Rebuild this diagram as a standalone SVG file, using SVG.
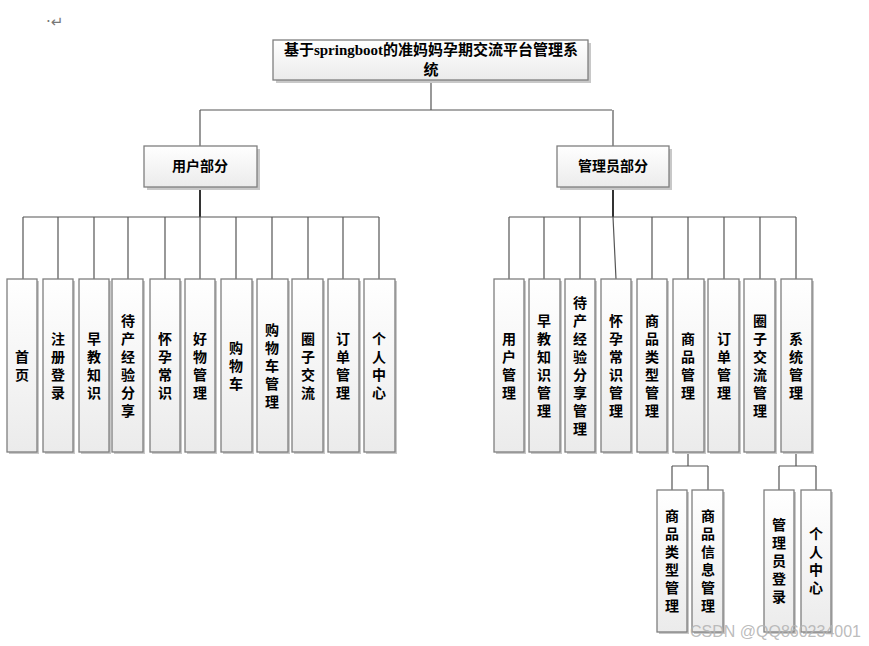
<svg xmlns="http://www.w3.org/2000/svg" width="869" height="646" viewBox="0 0 869 646">
<style>
.box{fill:url(#g);stroke:#7f7f7f;stroke-width:1.3}
.sh{fill:#c8c8c8}
.t{font-family:"Liberation Serif","Noto Sans CJK SC",serif;font-weight:bold;font-size:14px;fill:#000;text-anchor:middle;dominant-baseline:central}
.ln{stroke:#555;stroke-width:1.2;fill:none}
.th{stroke:#333;stroke-width:2;fill:none}
</style>
<defs>
<linearGradient id="g" x1="0" y1="0" x2="0" y2="1">
<stop offset="0" stop-color="#ffffff"/>
<stop offset="1" stop-color="#ebebeb"/>
</linearGradient>
</defs>
<rect width="869" height="646" fill="#fff"/>
<text x="46" y="27" font-family="DejaVu Sans,sans-serif" font-size="15" fill="#777">·↵</text>

<g id="connectors">
<path class="ln" d="M431,80V110M200,110H612M200,110V146M613,110V146"/>
<path class="th" d="M200,187V217M613,187V217"/>
<path class="ln" d="M23,217H379M23,217V279M58,217V279M94,217V279M128,217V279M165,217V279M200,217V279M236,217V279M272,217V279M308,217V279M343,217V279M379,217V279"/>
<path class="ln" d="M509,217H796M509,217V279M544,217V279M580,217V279M613,217L616,279M652,217V279M688,217V279M724,217V279M760,217V279M796,217V279"/>
<path class="ln" d="M688,452V466M672,466H708M672,466V490M708,466V490"/>
<path class="ln" d="M796,452V466M779,466H816M779,466V490M816,466V490"/>
</g>

<g id="root">
<rect class="sh" x="276" y="43" width="315" height="40"/>
<rect class="box" x="273" y="40" width="315" height="40"/>
<text class="t" x="431" y="50" style="font-size:15px">基于springboot的准妈妈孕期交流平台管理系</text>
<text class="t" x="431" y="70" style="font-size:15px">统</text>
</g>

<g id="user">
<rect class="sh" x="147" y="149" width="113" height="41"/>
<rect class="box" x="144" y="146" width="113" height="41"/>
<text class="t" x="200" y="166.5">用户部分</text>
</g>
<g id="admin">
<rect class="sh" x="560" y="149" width="112" height="41"/>
<rect class="box" x="557" y="146" width="112" height="41"/>
<text class="t" x="613" y="166.5">管理员部分</text>
</g>

<g id="u1"><rect class="sh" x="9" y="281" width="30" height="173"/><rect class="box" x="7" y="279" width="30" height="173"/>
<text class="t"><tspan x="22" y="356.5">首</tspan><tspan x="22" y="374.5">页</tspan></text></g>
<g id="u2"><rect class="sh" x="45" y="281" width="30" height="173"/><rect class="box" x="43" y="279" width="30" height="173"/>
<text class="t"><tspan x="58" y="338.5">注</tspan><tspan x="58" y="356.5">册</tspan><tspan x="58" y="374.5">登</tspan><tspan x="58" y="392.5">录</tspan></text></g>
<g id="u3"><rect class="sh" x="81" y="281" width="30" height="173"/><rect class="box" x="79" y="279" width="30" height="173"/>
<text class="t"><tspan x="94" y="338.5">早</tspan><tspan x="94" y="356.5">教</tspan><tspan x="94" y="374.5">知</tspan><tspan x="94" y="392.5">识</tspan></text></g>
<g id="u4"><rect class="sh" x="114" y="281" width="31" height="173"/><rect class="box" x="112" y="279" width="31" height="173"/>
<text class="t"><tspan x="128" y="320.5">待</tspan><tspan x="128" y="338.5">产</tspan><tspan x="128" y="356.5">经</tspan><tspan x="128" y="374.5">验</tspan><tspan x="128" y="392.5">分</tspan><tspan x="128" y="410.5">享</tspan></text></g>
<g id="u5"><rect class="sh" x="152" y="281" width="30" height="173"/><rect class="box" x="150" y="279" width="30" height="173"/>
<text class="t"><tspan x="165" y="338.5">怀</tspan><tspan x="165" y="356.5">孕</tspan><tspan x="165" y="374.5">常</tspan><tspan x="165" y="392.5">识</tspan></text></g>
<g id="u6"><rect class="sh" x="187" y="281" width="30" height="173"/><rect class="box" x="185" y="279" width="30" height="173"/>
<text class="t"><tspan x="200" y="338.5">好</tspan><tspan x="200" y="356.5">物</tspan><tspan x="200" y="374.5">管</tspan><tspan x="200" y="392.5">理</tspan></text></g>
<g id="u7"><rect class="sh" x="223" y="281" width="31" height="173"/><rect class="box" x="221" y="279" width="31" height="173"/>
<text class="t"><tspan x="236" y="347.5">购</tspan><tspan x="236" y="365.5">物</tspan><tspan x="236" y="383.5">车</tspan></text></g>
<g id="u8"><rect class="sh" x="259" y="281" width="31" height="173"/><rect class="box" x="257" y="279" width="31" height="173"/>
<text class="t"><tspan x="272" y="329.5">购</tspan><tspan x="272" y="347.5">物</tspan><tspan x="272" y="365.5">车</tspan><tspan x="272" y="383.5">管</tspan><tspan x="272" y="401.5">理</tspan></text></g>
<g id="u9"><rect class="sh" x="294" y="281" width="31" height="173"/><rect class="box" x="292" y="279" width="31" height="173"/>
<text class="t"><tspan x="308" y="338.5">圈</tspan><tspan x="308" y="356.5">子</tspan><tspan x="308" y="374.5">交</tspan><tspan x="308" y="392.5">流</tspan></text></g>
<g id="u10"><rect class="sh" x="330" y="281" width="31" height="173"/><rect class="box" x="328" y="279" width="31" height="173"/>
<text class="t"><tspan x="343" y="338.5">订</tspan><tspan x="343" y="356.5">单</tspan><tspan x="343" y="374.5">管</tspan><tspan x="343" y="392.5">理</tspan></text></g>
<g id="u11"><rect class="sh" x="366" y="281" width="31" height="173"/><rect class="box" x="364" y="279" width="31" height="173"/>
<text class="t"><tspan x="379" y="338.5">个</tspan><tspan x="379" y="356.5">人</tspan><tspan x="379" y="374.5">中</tspan><tspan x="379" y="392.5">心</tspan></text></g>

<g id="a1"><rect class="sh" x="496" y="281" width="30" height="173"/><rect class="box" x="494" y="279" width="30" height="173"/>
<text class="t"><tspan x="509" y="338.5">用</tspan><tspan x="509" y="356.5">户</tspan><tspan x="509" y="374.5">管</tspan><tspan x="509" y="392.5">理</tspan></text></g>
<g id="a2"><rect class="sh" x="531" y="281" width="31" height="173"/><rect class="box" x="529" y="279" width="31" height="173"/>
<text class="t"><tspan x="544" y="320.5">早</tspan><tspan x="544" y="338.5">教</tspan><tspan x="544" y="356.5">知</tspan><tspan x="544" y="374.5">识</tspan><tspan x="544" y="392.5">管</tspan><tspan x="544" y="410.5">理</tspan></text></g>
<g id="a3"><rect class="sh" x="567" y="281" width="30" height="173"/><rect class="box" x="565" y="279" width="30" height="173"/>
<text class="t"><tspan x="580" y="302.5">待</tspan><tspan x="580" y="320.5">产</tspan><tspan x="580" y="338.5">经</tspan><tspan x="580" y="356.5">验</tspan><tspan x="580" y="374.5">分</tspan><tspan x="580" y="392.5">享</tspan><tspan x="580" y="410.5">管</tspan><tspan x="580" y="428.5">理</tspan></text></g>
<g id="a4"><rect class="sh" x="603" y="281" width="30" height="173"/><rect class="box" x="601" y="279" width="30" height="173"/>
<text class="t"><tspan x="616" y="320.5">怀</tspan><tspan x="616" y="338.5">孕</tspan><tspan x="616" y="356.5">常</tspan><tspan x="616" y="374.5">识</tspan><tspan x="616" y="392.5">管</tspan><tspan x="616" y="410.5">理</tspan></text></g>
<g id="a5"><rect class="sh" x="639" y="281" width="30" height="173"/><rect class="box" x="637" y="279" width="30" height="173"/>
<text class="t"><tspan x="652" y="320.5">商</tspan><tspan x="652" y="338.5">品</tspan><tspan x="652" y="356.5">类</tspan><tspan x="652" y="374.5">型</tspan><tspan x="652" y="392.5">管</tspan><tspan x="652" y="410.5">理</tspan></text></g>
<g id="a6"><rect class="sh" x="675" y="281" width="31" height="173"/><rect class="box" x="673" y="279" width="31" height="173"/>
<text class="t"><tspan x="688" y="338.5">商</tspan><tspan x="688" y="356.5">品</tspan><tspan x="688" y="374.5">管</tspan><tspan x="688" y="392.5">理</tspan></text></g>
<g id="a7"><rect class="sh" x="710" y="281" width="31" height="173"/><rect class="box" x="708" y="279" width="31" height="173"/>
<text class="t"><tspan x="724" y="338.5">订</tspan><tspan x="724" y="356.5">单</tspan><tspan x="724" y="374.5">管</tspan><tspan x="724" y="392.5">理</tspan></text></g>
<g id="a8"><rect class="sh" x="746" y="281" width="31" height="173"/><rect class="box" x="744" y="279" width="31" height="173"/>
<text class="t"><tspan x="760" y="320.5">圈</tspan><tspan x="760" y="338.5">子</tspan><tspan x="760" y="356.5">交</tspan><tspan x="760" y="374.5">流</tspan><tspan x="760" y="392.5">管</tspan><tspan x="760" y="410.5">理</tspan></text></g>
<g id="a9"><rect class="sh" x="783" y="281" width="31" height="173"/><rect class="box" x="781" y="279" width="31" height="173"/>
<text class="t"><tspan x="796" y="338.5">系</tspan><tspan x="796" y="356.5">统</tspan><tspan x="796" y="374.5">管</tspan><tspan x="796" y="392.5">理</tspan></text></g>

<g id="s1"><rect class="sh" x="659" y="492" width="30" height="142"/><rect class="box" x="657" y="490" width="30" height="142"/>
<text class="t"><tspan x="672" y="516">商</tspan><tspan x="672" y="534">品</tspan><tspan x="672" y="552">类</tspan><tspan x="672" y="570">型</tspan><tspan x="672" y="588">管</tspan><tspan x="672" y="606">理</tspan></text></g>
<g id="s2"><rect class="sh" x="694" y="492" width="31" height="142"/><rect class="box" x="692" y="490" width="31" height="142"/>
<text class="t"><tspan x="708" y="516">商</tspan><tspan x="708" y="534">品</tspan><tspan x="708" y="552">信</tspan><tspan x="708" y="570">息</tspan><tspan x="708" y="588">管</tspan><tspan x="708" y="606">理</tspan></text></g>
<g id="s3"><rect class="sh" x="766" y="492" width="30" height="142"/><rect class="box" x="764" y="490" width="30" height="142"/>
<text class="t"><tspan x="779" y="525">管</tspan><tspan x="779" y="543">理</tspan><tspan x="779" y="561">员</tspan><tspan x="779" y="579">登</tspan><tspan x="779" y="597">录</tspan></text></g>
<g id="s4"><rect class="sh" x="803" y="492" width="30" height="142"/><rect class="box" x="801" y="490" width="30" height="142"/>
<text class="t"><tspan x="816" y="534">个</tspan><tspan x="816" y="552">人</tspan><tspan x="816" y="570">中</tspan><tspan x="816" y="588">心</tspan></text></g>

<text x="690" y="637" font-family="Liberation Sans,sans-serif" font-size="16" fill="#b4b4b4" fill-opacity="0.9">CSDN @QQ860234001</text>
</svg>
